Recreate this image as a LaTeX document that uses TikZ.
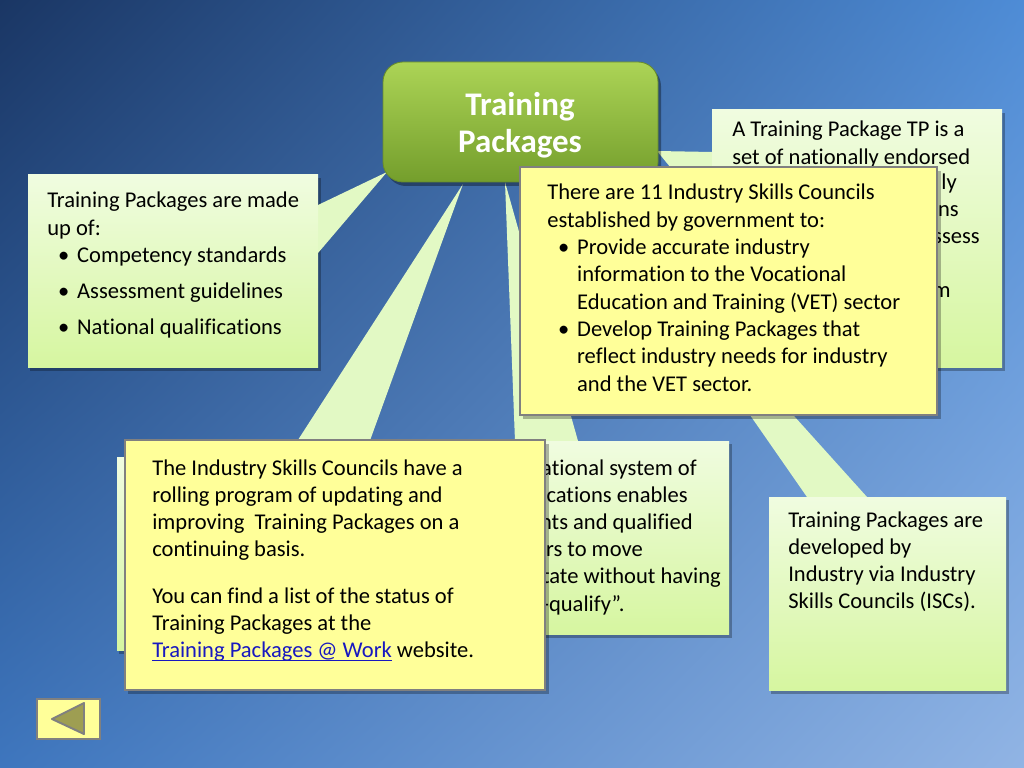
\documentclass[tikz,border=0pt]{standalone}
\usepackage{fontspec}
\setmainfont{Carlito}[Ligatures=NoCommon, WordSpace={1,0,0}]
\usepackage{xcolor}
\usepackage{tikz}
\usetikzlibrary{calc,shadings}

\definecolor{bgdark}{RGB}{26,54,100}
\definecolor{bgtr}{RGB}{78,140,214}
\definecolor{bgbl}{RGB}{62,118,190}
\definecolor{bglight}{RGB}{145,180,228}
\definecolor{notetop}{RGB}{240,252,224}
\definecolor{notebot}{RGB}{214,246,160}
\definecolor{wedgefill}{RGB}{226,249,196}
\definecolor{tptop}{RGB}{172,212,86}
\definecolor{tpbot}{RGB}{116,158,44}
\definecolor{tpedge}{RGB}{104,140,44}
\definecolor{yellownote}{RGB}{255,255,153}
\definecolor{noteedge}{RGB}{128,128,128}
\definecolor{linkblue}{RGB}{24,24,192}
\definecolor{arrowfill}{RGB}{158,158,82}

\newcommand{\tpfont}{\fontsize{15.85}{19.2}\selectfont}
\newcommand{\tpspace}{\setlength{\spaceskip}{0.226em}\setlength{\xspaceskip}{0.3em}}
\newcommand{\tpitem}{\hspace*{7.7pt}\makebox[13.3pt][l]{\textbullet}}
\newcommand{\tpindent}{\hspace*{21pt}}

\begin{document}
\begin{tikzpicture}[x=0.703125pt,y=-0.703125pt,
	tptext/.style={font=\tpfont, inner sep=0pt},
	tppara/.style={tptext, text width=320pt, execute at begin node=\tpspace},
	greenbox/.style={top color=notetop, bottom color=notebot},
	wedgeshape/.style={fill=wedgefill},
	boxshadow/.style={fill=black, opacity=.28},
	yellowbox/.style={fill=yellownote, draw=noteedge, line width=1.8pt}]

	\useasboundingbox (0,0) rectangle (1024,768);
	\shade[upper left=bgdark, upper right=bgtr, lower left=bgbl, lower right=bglight] (0,0) rectangle (1024,768); %backdrop

	\coordinate (ma) at (28,175);  \coordinate (mb) at (318,367);  %made up of
	\coordinate (da) at (712,110); \coordinate (db) at (1002,367); %definition
	\coordinate (ra) at (117,457); \coordinate (rb) at (500,650);  %rolling program
	\coordinate (qa) at (470,441); \coordinate (qb) at (729,634);  %qualifications
	\coordinate (ia) at (769,497); \coordinate (ib) at (1006,690); %ISCs

	\foreach \a/\b in {ma/mb,da/db,ra/rb,qa/qb,ia/ib}
		\fill[boxshadow] ($(\a)+(2,3)$) rectangle ($(\b)+(3,4)$);

	% tips of the pointers
	\coordinate (mt) at (387,172);
	\coordinate (dt) at (657,151);
	\coordinate (rt) at (463,184);
	\coordinate (qt) at (505,182);
	\coordinate (it) at (604,205);

	\fill[wedgeshape] (318,205) -- (mt) -- (318,253) -- cycle;
	\fill[wedgeshape] (712,152) -- (dt) -- (712,218) -- cycle;
	\fill[wedgeshape] (287,457) -- (rt) -- (364,457) -- cycle;
	\fill[wedgeshape] (515,441) -- (qt) -- (578,441) -- cycle;
	\fill[wedgeshape] (807,497) -- (it) -- (867,497) -- cycle;

	\foreach \a/\b in {ma/mb,da/db,ra/rb,qa/qb,ia/ib}
		\path[greenbox] (\a) rectangle (\b);

	\node[tppara, anchor=base west] (madeof) at (47,208) {Training Packages are made\\
		up of:\\
		\tpitem Competency standards\\[6pt]
		\tpitem Assessment guidelines\\[6pt]
		\tpitem National qualifications};

	\node[tppara, anchor=base west] (define) at (732,137) {A Training Package TP is a\\
		set of nationally endorsed};
	\node[tptext, anchor=base east] (defa) at (957,190) {ly};
	\node[tptext, anchor=base east] (defb) at (959,217) {ns};
	\node[tptext, anchor=base east] (defc) at (980,244) {ssess};
	\node[tptext, anchor=base east] (defd) at (951,298) {m};

	\node[tptext, anchor=base east] (quala) at (697,475) {ational system of};
	\node[tptext, anchor=base east] (qualb) at (688,502) {ications enables};
	\node[tptext, anchor=base east] (qualc) at (693,529) {nts and qualified};
	\node[tptext, anchor=base east] (quald) at (643,556) {rs to move};
	\node[tptext, anchor=base east] (quale) at (721,583) {tate without having};
	\node[tptext, anchor=base east] (qualf) at (625,611) {-qualify”.};

	\node[tppara, anchor=base west] (iscs) at (788,527) {Training Packages are\\
		developed by\\
		Industry via Industry\\
		Skills Councils (ISCs).};

	% title box
	\fill[black, opacity=.35, rounded corners=14pt] (386,66) rectangle (661,186);
	\path[rounded corners=14pt, top color=tptop, bottom color=tpbot, draw=tpedge, line width=.6pt] (383,62) rectangle (658,182);
	\node[anchor=base, text width=190pt, align=center, inner sep=0pt, text=white,
		font=\fontsize{23.2}{26}\selectfont\bfseries] (title) at (520,116) {Training\\Packages};

	% yellow notes on top
	\fill[boxshadow] (523,171) rectangle (941,419);
	\draw[yellowbox] (520,167) rectangle (937,415);
	\node[tppara, anchor=base west] (councils) at (547,200) {There are 11 Industry Skills Councils\\
		established by government to:\\
		\tpitem Provide accurate industry\\
		\tpindent information to the Vocational\\
		\tpindent Education and Training (VET) sector\\
		\tpitem Develop Training Packages that\\
		\tpindent reflect industry needs for industry\\
		\tpindent and the VET sector.};

	\fill[boxshadow] (128,444) rectangle (549,694);
	\draw[yellowbox] (125,440) rectangle (545,690);
	\node[tppara, anchor=base west] (rolling) at (152,475) {The Industry Skills Councils have a\\
		rolling program of updating and\\
		improving\ \ Training Packages on a\\
		continuing basis.\\[13.4pt]
		You can find a list of the status of\\
		Training Packages at the\\
		\textcolor{linkblue}{\underline{\smash{Training Packages @ Work}}} website.};

	% back button
	\draw[yellowbox] (37,699) rectangle (100,739);
	\draw[fill=arrowfill, draw=noteedge, line width=1.4pt, line join=round] (52,719) -- (84,703) -- (84,734) -- cycle;

\end{tikzpicture}
\end{document}
